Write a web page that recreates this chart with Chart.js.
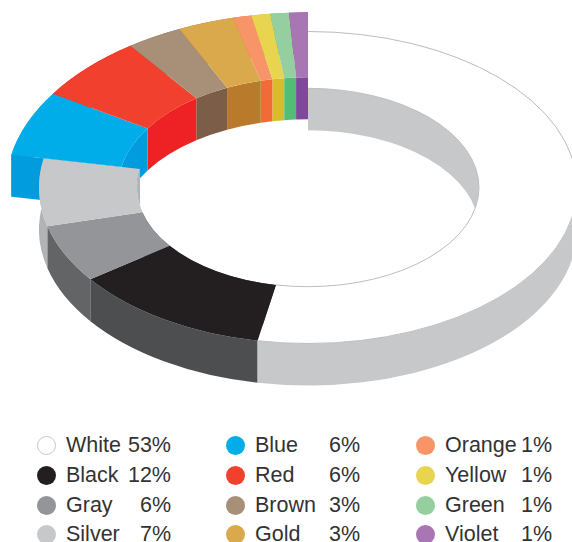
<!DOCTYPE html>
<html>
<head>
<meta charset="utf-8">
<title>Car colors</title>
<script src="https://cdn.jsdelivr.net/npm/chart.js@4"></script>
<style>
  html, body { margin: 0; padding: 0; background: #fff; overflow: hidden; }
  #wrap { position: relative; width: 572px; height: 542px; overflow: hidden; }
  #chart { position: absolute; left: 0; top: 0; }
  .dot { position: absolute; width: 19px; height: 19px; border-radius: 50%; box-sizing: border-box; }
  .name, .pct { position: absolute; font: 21.5px "Liberation Sans", Arial, sans-serif; color: #333234; line-height: 24px; white-space: nowrap; }
  .pct { text-align: right; width: 50px; }
</style>
</head>
<body>
<div id="wrap">
  <canvas id="chart" width="572" height="400"></canvas>
  <div id="legend"></div>
</div>
<script>
const categories = ['White', 'Black', 'Gray', 'Silver', 'Blue', 'Red', 'Brown', 'Gold', 'Orange', 'Yellow', 'Green', 'Violet'];
const shares = [53, 12, 6, 7, 6, 6, 3, 3, 1, 1, 1, 1];

// top face and side wall colours
const faceColors = ['#ffffff', '#231f20', '#939598', '#c7c8ca', '#00ade8', '#f1402d', '#a89078', '#daa94b', '#f79468', '#e8d44f', '#95ce9f', '#a876b2'];
const wallColors = ['#c7c8ca', '#4d4e50', '#636466', '#b1b3b5', '#009cde', '#ee2124', '#7c5e48', '#ba7a2c', '#f26a36', '#d8bc2c', '#53bd76', '#80489c'];

// the slices from Blue on stick out of the ring
const firstRaised = categories.indexOf('Blue');
const ring = { inner: 171, outer: 269 };
const raisedRing = { inner: 190, outer: 302 };
const tilt = 0.58;
const depth = 42;

function wall(ctx, arc, radius, color) {
    ctx.beginPath();
    ctx.ellipse(arc.x, arc.y, radius, radius * tilt, 0, arc.startAngle, arc.endAngle);
    ctx.ellipse(arc.x, arc.y + depth, radius, radius * tilt, 0, arc.endAngle, arc.startAngle, true);
    ctx.closePath();
    ctx.fillStyle = color;
    ctx.fill();
}

// flat face where the raised part starts
function endFace(ctx, arc, color) {
    const cos = Math.cos(arc.startAngle);
    const sin = Math.sin(arc.startAngle) * tilt;
    const ox = arc.x + arc.outerRadius * cos, oy = arc.y + arc.outerRadius * sin;
    const ix = arc.x + arc.innerRadius * cos, iy = arc.y + arc.innerRadius * sin;
    ctx.beginPath();
    ctx.moveTo(ox, oy);
    ctx.lineTo(ix, iy);
    ctx.lineTo(ix, iy + depth);
    ctx.lineTo(ox, oy + depth);
    ctx.closePath();
    ctx.fillStyle = color;
    ctx.fill();
}

const extrude = {
    id: 'extrude',
    afterDatasetsUpdate(chart) {
        chart.getDatasetMeta(0).data.forEach((arc, i) => {
            const r = i >= firstRaised ? raisedRing : ring;
            arc.innerRadius = r.inner;
            arc.outerRadius = r.outer;
        });
    },
    beforeDatasetsDraw(chart) {
        const ctx = chart.ctx;
        const arcs = chart.getDatasetMeta(0).data;
        // raised slices go behind the ring
        const order = arcs.map((a, i) => i).reverse();
        order.forEach(i => {
            const arc = arcs[i];
            wall(ctx, arc, arc.innerRadius, wallColors[i]);
            wall(ctx, arc, arc.outerRadius, wallColors[i]);
            if (i === firstRaised) endFace(ctx, arc, wallColors[i]);
        });
        // squash the flat arcs into the tilted plane
        const c = arcs[0];
        ctx.save();
        ctx.translate(c.x, c.y);
        ctx.scale(1, tilt);
        ctx.translate(-c.x, -c.y);
    },
    afterDatasetsDraw(chart) {
        const ctx = chart.ctx;
        ctx.restore();
        // thin outline so the white slice shows on the page
        const w = chart.getDatasetMeta(0).data[0];
        ctx.strokeStyle = '#bcbec0';
        ctx.lineWidth = 1;
        [w.innerRadius, w.outerRadius].forEach(r => {
            ctx.beginPath();
            ctx.ellipse(w.x, w.y, r, r * tilt, 0, w.startAngle, w.endAngle);
            ctx.stroke();
        });
    }
};

new Chart(document.getElementById('chart'), {
    type: 'doughnut',
    data: {
        labels: categories,
        datasets: [{
            data: shares,
            backgroundColor: faceColors,
            borderWidth: 0
        }]
    },
    options: {
        responsive: false,
        animation: false,
        events: [],
        layout: { padding: { left: 44, bottom: 25 } },
        plugins: { legend: { display: false }, tooltip: { enabled: false } }
    },
    plugins: [extrude]
});

// legend: three columns of four rows
const legend = document.getElementById('legend');
const colX = [36.5, 225.5, 415.5];
const colLabel = [66, 255, 445];
const colPct = [121, 310, 502];
const rowY = [445, 475, 505, 534];
categories.forEach((name, i) => {
    const col = Math.floor(i / 4), row = i % 4;
    const dot = document.createElement('div');
    dot.className = 'dot';
    dot.style.left = colX[col] + 'px';
    dot.style.top = (rowY[row] - 9.5) + 'px';
    dot.style.background = faceColors[i];
    if (i === 0) dot.style.border = '1px solid #c7c8ca';
    const label = document.createElement('div');
    label.className = 'name';
    label.textContent = name;
    label.style.left = colLabel[col] + 'px';
    label.style.top = (rowY[row] - 12) + 'px';
    const pct = document.createElement('div');
    pct.className = 'pct';
    pct.textContent = shares[i] + '%';
    pct.style.left = colPct[col] + 'px';
    pct.style.top = (rowY[row] - 12) + 'px';
    legend.append(dot, label, pct);
});
</script>
</body>
</html>
